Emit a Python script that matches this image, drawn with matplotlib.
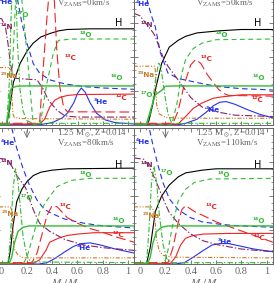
import matplotlib
matplotlib.use('Agg')
import matplotlib.pyplot as plt
from matplotlib.ticker import MultipleLocator

plt.rcParams['lines.scale_dashes'] = False
plt.rcParams['font.family'] = ['Liberation Serif', 'DejaVu Serif']
plt.rcParams['mathtext.fontset'] = 'stix'

# rotation velocities of the four panels
vzams = ['0', '50', '80', '110']

# --- V = 0 km/s -------------------------------------------------------
h_v0 = [(-0.05, 0), (0.04, 0), (0.06, 0.1), (0.093, 0.31), (0.146, 0.45), (0.2, 0.54), (0.25, 0.60),
        (0.31, 0.645), (0.38, 0.67), (0.45, 0.69), (0.52, 0.70), (0.7, 0.705), (1.05, 0.705)]
he4_v0 = [(0.10, 1.1), (0.12, 0.95), (0.16, 0.75), (0.2, 0.6), (0.25, 0.45), (0.3, 0.38), (0.38, 0.33),
          (0.5, 0.30), (0.65, 0.28), (0.8, 0.27), (1.05, 0.26)]
he3_v0 = [(-0.05, 0), (0.3, 0), (0.4, 0.015), (0.48, 0.05), (0.52, 0.085), (0.57, 0.16), (0.6, 0.23),
          (0.63, 0.27), (0.66, 0.24), (0.7, 0.16), (0.75, 0.085), (0.82, 0.035), (0.9, 0.015), (1.05, 0.005)]
c12_v0 = [(-0.05, 0.005), (0.3, 0.005), (0.34, 0.04), (0.38, 0.13), (0.42, 0.18), (0.46, 0.20),
          (0.52, 0.215), (0.6, 0.222), (1.05, 0.225)]
c13_v0 = [(-0.05, 0.01), (0.3, 0.01), (0.33, 0.43), (0.357, 0.77), (0.383, 1.05), (0.41, 1.05),
          (0.436, 0.55), (0.46, 0.28), (0.49, 0.13), (0.52, 0.095), (1.05, 0.093)]
n14_v0 = [(-0.05, 0.78), (0.0, 0.78), (0.03, 0.72), (0.05, 0.6), (0.07, 0.45), (0.093, 0.35),
          (0.12, 0.34), (0.2, 0.335), (0.28, 0.33), (0.33, 0.26), (0.37, 0.18), (0.436, 0.108),
          (0.5, 0.065), (0.6, 0.056), (1.05, 0.056)]
na23_v0 = [(-0.05, 0.42), (0.06, 0.42), (0.075, 0.40), (0.08, 0.3), (0.085, 0.15), (0.09, 0.08),
           (0.1, 0.055), (0.15, 0.045), (1.05, 0.04)]
o16_v0 = [(-0.05, 0.005), (0.04, 0.005), (0.055, 0.1), (0.067, 0.24), (0.08, 0.27), (0.12, 0.283),
          (0.2, 0.285), (1.05, 0.285)]
o17_v0 = [(-0.05, 0), (0.04, 0), (0.06, 0.3), (0.075, 0.8), (0.09, 1.1), (0.11, 1.1), (0.125, 0.6),
          (0.146, 0.255), (0.17, 0.1), (0.2, 0.03), (0.25, 0.01), (1.05, 0.01)]
o18_v0 = [(-0.05, 0), (0.06, 0), (0.09, 0.5), (0.12, 1.1), (0.16, 0.92), (0.21, 0.43), (0.25, 0.0),
          (0.305, 0.0), (0.357, 0.3), (0.41, 0.53), (0.45, 0.62), (0.55, 0.63), (1.05, 0.63)]

# --- V = 50 km/s ------------------------------------------------------
h_v50 = [(-0.05, 0), (0.05, 0), (0.07, 0.03), (0.1, 0.15), (0.12, 0.255), (0.17, 0.45), (0.23, 0.57),
         (0.3, 0.62), (0.36, 0.65), (0.45, 0.675), (0.62, 0.69), (0.8, 0.70), (1.05, 0.70)]
he4_v50 = [(0.03, 1.05), (0.06, 0.9), (0.09, 0.8), (0.12, 0.72), (0.16, 0.53), (0.22, 0.38),
           (0.3, 0.34), (0.35, 0.33), (0.5, 0.30), (0.62, 0.28), (0.8, 0.265), (1.05, 0.255)]
he3_v50 = [(-0.05, 0), (0.3, 0), (0.36, 0.01), (0.45, 0.04), (0.52, 0.09), (0.58, 0.14), (0.63, 0.165),
           (0.68, 0.17), (0.75, 0.15), (0.85, 0.11), (0.95, 0.075), (1.05, 0.05)]
c12_v50 = [(-0.05, 0.005), (0.3, 0.005), (0.36, 0.06), (0.42, 0.12), (0.49, 0.16), (0.58, 0.195),
           (0.65, 0.205), (0.8, 0.22), (1.05, 0.22)]
c13_v50 = [(-0.05, 0.01), (0.26, 0.01), (0.3, 0.1), (0.35, 0.3), (0.4, 0.44), (0.44, 0.48), (0.48, 0.45),
           (0.53, 0.37), (0.57, 0.32), (0.62, 0.26), (0.66, 0.23), (0.7, 0.215), (1.05, 0.21)]
n14_v50 = [(-0.05, 0.82), (0.0, 0.80), (0.05, 0.74), (0.1, 0.68), (0.12, 0.65), (0.15, 0.57),
           (0.18, 0.50), (0.22, 0.43), (0.3, 0.33), (0.4, 0.2), (0.49, 0.13), (0.6, 0.095),
           (0.75, 0.07), (1.05, 0.06)]
na23_v50 = [(-0.05, 0.43), (0.115, 0.43), (0.12, 0.40), (0.125, 0.3), (0.13, 0.15), (0.15, 0.08),
            (0.2, 0.055), (0.3, 0.048), (1.05, 0.047)]
o16_v50 = [(-0.05, 0.005), (0.05, 0.005), (0.08, 0.1), (0.12, 0.22), (0.174, 0.255), (0.2, 0.283),
           (0.3, 0.285), (1.05, 0.285)]
o17_v50 = [(-0.05, 0), (0.05, 0), (0.09, 0.1), (0.12, 0.32), (0.147, 0.46), (0.165, 0.42), (0.19, 0.25),
           (0.22, 0.08), (0.25, 0.01), (1.05, 0.01)]
o18_v50 = [(-0.05, 0.0), (0.25, 0.0), (0.29, 0.15), (0.33, 0.38), (0.36, 0.48), (0.42, 0.56),
           (0.49, 0.60), (0.6, 0.625), (1.05, 0.63)]

# --- V = 80 km/s ------------------------------------------------------
h_v80 = [(-0.05, 0), (0.05, 0), (0.07, 0.1), (0.09, 0.28), (0.12, 0.46), (0.16, 0.55), (0.2, 0.605),
         (0.25, 0.65), (0.31, 0.675), (0.4, 0.69), (0.52, 0.70), (1.05, 0.705)]
he4_v80 = [(0.08, 1.0), (0.12, 0.85), (0.17, 0.70), (0.22, 0.58), (0.28, 0.47), (0.34, 0.40),
           (0.4, 0.37), (0.5, 0.33), (0.65, 0.3), (0.8, 0.28), (1.05, 0.265)]
he3_v80 = [(-0.05, 0), (0.3, 0), (0.36, 0.01), (0.42, 0.04), (0.5, 0.09), (0.57, 0.13), (0.63, 0.15),
           (0.7, 0.155), (0.78, 0.14), (0.9, 0.11), (1.05, 0.08)]
c12_v80 = [(-0.05, 0.005), (0.25, 0.005), (0.3, 0.03), (0.35, 0.1), (0.38, 0.16), (0.45, 0.19),
           (0.52, 0.21), (0.6, 0.22), (0.73, 0.23), (1.05, 0.23)]
c13_v80 = [(-0.05, 0.01), (0.24, 0.01), (0.28, 0.08), (0.32, 0.22), (0.36, 0.36), (0.4, 0.43),
           (0.44, 0.42), (0.48, 0.38), (0.52, 0.34), (0.6, 0.3), (0.7, 0.26), (0.78, 0.24),
           (0.9, 0.2), (1.05, 0.16)]
n14_v80 = [(-0.05, 0.78), (0.04, 0.77), (0.08, 0.72), (0.12, 0.65), (0.16, 0.6), (0.19, 0.56),
           (0.25, 0.40), (0.3, 0.3), (0.38, 0.24), (0.5, 0.18), (0.65, 0.14), (0.8, 0.12), (1.05, 0.10)]
na23_v80 = [(-0.05, 0.42), (0.07, 0.42), (0.085, 0.38), (0.09, 0.25), (0.095, 0.15), (0.1, 0.11),
            (0.13, 0.066), (0.17, 0.045), (1.05, 0.045)]
o16_v80 = [(-0.05, 0.005), (0.06, 0.005), (0.08, 0.05), (0.1, 0.15), (0.13, 0.24), (0.17, 0.27),
           (0.22, 0.28), (1.05, 0.28)]
o17_v80 = [(-0.05, 0), (0.05, 0), (0.07, 0.2), (0.09, 0.55), (0.11, 0.7), (0.13, 0.6), (0.15, 0.4),
           (0.17, 0.2), (0.2, 0.06), (0.23, 0.015), (1.05, 0.01)]
o18_v80 = [(-0.05, 0), (0.17, 0), (0.2, 0.05), (0.25, 0.21), (0.3, 0.38), (0.36, 0.47), (0.44, 0.57),
           (0.55, 0.615), (0.7, 0.63), (1.05, 0.63)]

# --- V = 110 km/s -----------------------------------------------------
h_v110 = [(-0.05, 0), (0.05, 0), (0.08, 0.12), (0.12, 0.385), (0.17, 0.5), (0.23, 0.58), (0.3, 0.64),
          (0.36, 0.67), (0.49, 0.69), (0.6, 0.70), (1.05, 0.70)]
he4_v110 = [(0.06, 1.05), (0.1, 0.88), (0.14, 0.73), (0.18, 0.6), (0.23, 0.48), (0.3, 0.4), (0.4, 0.34),
            (0.49, 0.31), (0.65, 0.29), (0.8, 0.28), (1.05, 0.27)]
he3_v110 = [(-0.05, 0), (0.28, 0), (0.35, 0.01), (0.42, 0.05), (0.5, 0.1), (0.57, 0.14), (0.63, 0.15),
            (0.7, 0.15), (0.8, 0.13), (0.9, 0.11), (1.05, 0.09)]
c12_v110 = [(-0.05, 0.005), (0.24, 0.005), (0.28, 0.05), (0.32, 0.14), (0.36, 0.19), (0.42, 0.21),
            (0.5, 0.22), (0.7, 0.225), (1.05, 0.225)]
c13_v110 = [(-0.05, 0.01), (0.22, 0.01), (0.26, 0.12), (0.3, 0.3), (0.33, 0.4), (0.36, 0.43),
            (0.39, 0.41), (0.44, 0.38), (0.49, 0.36), (0.6, 0.31), (0.75, 0.26), (0.9, 0.21), (1.05, 0.16)]
n14_v110 = [(-0.05, 0.78), (0.03, 0.77), (0.07, 0.72), (0.12, 0.62), (0.16, 0.53), (0.2, 0.44),
            (0.23, 0.38), (0.3, 0.3), (0.4, 0.22), (0.5, 0.17), (0.62, 0.14), (0.8, 0.11), (1.05, 0.09)]
na23_v110 = [(-0.05, 0.42), (0.09, 0.42), (0.11, 0.39), (0.12, 0.3), (0.13, 0.18), (0.15, 0.1),
             (0.18, 0.065), (0.25, 0.05), (1.05, 0.045)]
o16_v110 = [(-0.05, 0.005), (0.06, 0.005), (0.08, 0.05), (0.1, 0.15), (0.13, 0.24), (0.17, 0.27),
            (0.22, 0.28), (1.05, 0.28)]
o17_v110 = [(-0.05, 0), (0.05, 0), (0.07, 0.25), (0.09, 0.6), (0.11, 0.72), (0.13, 0.6), (0.15, 0.38),
            (0.18, 0.15), (0.21, 0.04), (0.25, 0.01), (1.05, 0.01)]
o18_v110 = [(-0.05, 0), (0.19, 0), (0.22, 0.1), (0.26, 0.3), (0.3, 0.46), (0.36, 0.55), (0.43, 0.6),
            (0.55, 0.625), (1.05, 0.63)]

profiles = {
    '0': dict(H=h_v0, He4=he4_v0, He3=he3_v0, C12=c12_v0, C13=c13_v0, N14=n14_v0,
              Na23=na23_v0, O16=o16_v0, O17=o17_v0, O18=o18_v0),
    '50': dict(H=h_v50, He4=he4_v50, He3=he3_v50, C12=c12_v50, C13=c13_v50, N14=n14_v50,
               Na23=na23_v50, O16=o16_v50, O17=o17_v50, O18=o18_v50),
    '80': dict(H=h_v80, He4=he4_v80, He3=he3_v80, C12=c12_v80, C13=c13_v80, N14=n14_v80,
               Na23=na23_v80, O16=o16_v80, O17=o17_v80, O18=o18_v80),
    '110': dict(H=h_v110, He4=he4_v110, He3=he3_v110, C12=c12_v110, C13=c13_v110, N14=n14_v110,
                Na23=na23_v110, O16=o16_v110, O17=o17_v110, O18=o18_v110),
}

# label texts and where they sit in each panel
names = dict(H='H', He4='⁴He', He3='³He', C12='¹²C', C13='¹³C', N14='¹⁴N',
             Na23='²³Na', O16='¹⁶O', O17='¹⁷O', O18='¹⁸O')
label_pos = {
    '0': dict(H=(0.9, 0.75), He4=(-0.02, 0.9), He3=(0.73, 0.17), C12=(0.9, 0.195), C13=(0.5, 0.49),
              N14=(-0.01, 0.72), Na23=(-0.01, 0.36), O16=(0.86, 0.34), O17=(0.12, 0.81), O18=(0.62, 0.66)),
    '50': dict(H=(0.9, 0.75), He4=(-0.037, 0.89), He3=(0.516, 0.108), C12=(0.88, 0.18), C13=(0.48, 0.48),
               N14=(0.0, 0.73), Na23=(-0.02, 0.365), O16=(0.885, 0.34), O17=(0.0, 0.22), O18=(0.6, 0.66)),
    '80': dict(H=(0.9, 0.73), He4=(-0.01, 0.89), He3=(0.59, 0.115), C12=(0.88, 0.21), C13=(0.46, 0.42),
               N14=(-0.01, 0.74), Na23=(0.0, 0.37), O16=(0.88, 0.315), O17=(0.146, 0.485), O18=(0.62, 0.655)),
    '110': dict(H=(0.9, 0.73), He4=(-0.037, 0.9), He3=(0.61, 0.165), C12=(0.9, 0.19), C13=(0.516, 0.42),
                N14=(0.0, 0.73), Na23=(0.016, 0.35), O16=(0.89, 0.315), O17=(0.16, 0.667), O18=(0.61, 0.655)),
}

styles = {
    'H':    dict(color='black', ls='-', lw=0.8),
    'He4':  dict(color='#2233ee', ls=(0, (4, 2.5)), lw=0.8),
    'He3':  dict(color='#2233ee', ls='-', lw=0.8),
    'C12':  dict(color='#ee2222', ls='-', lw=0.8),
    'C13':  dict(color='#ee2222', ls=(0, (7, 3)), lw=0.8),
    'N14':  dict(color='#882266', ls=(0, (5, 1.5, 1, 1.5)), lw=0.8),
    'Na23': dict(color='#cc7a2a', ls=(0, (3, 1.2, 0.8, 1.2, 0.8, 1.2)), lw=0.8),
    'O16':  dict(color='#33bb33', ls='-', lw=1.0),
    'O17':  dict(color='#33bb33', ls=(0, (4, 1.5, 1, 1.5)), lw=0.8),
    'O18':  dict(color='#33bb33', ls=(0, (3.5, 2.5)), lw=0.8),
}

W, HF = 275.0, 283.0
unit = 126.5
xmin, xmax = -0.045, 1.05
pw = (xmax - xmin) * unit
ph = 136.0
lefts = [1.6 + xmin * unit, 1.6 + xmin * unit + pw]
tops = [124.7 - ph, 128.0]

fig = plt.figure(figsize=(2.75, 2.83), dpi=100)
grey = '#666666'

for i, v in enumerate(vzams):
    row, col = divmod(i, 2)
    l, t = lefts[col], tops[row]
    ax = fig.add_axes([l / W, (HF - t - ph) / HF, pw / W, ph / HF])
    for key, pts in profiles[v].items():
        xs = [p[0] for p in pts]
        ys = [p[1] for p in pts]
        ax.plot(xs, ys, **styles[key])
    for key, (tx, ty) in label_pos[v].items():
        if key == 'H':
            ax.text(tx, ty, names[key], color='black', fontsize=7, family='DejaVu Sans',
                    ha='left', va='center')
        else:
            ax.text(tx, ty, names[key], color=styles[key]['color'], fontsize=5.2,
                    family='DejaVu Sans', fontweight='bold', ha='left', va='center')
    ax.text(0.44, 1 - 5.5 / ph, r'1.25 M$_\odot$, Z=0.014', color=grey, fontsize=6.5,
            ha='left', va='center')
    ax.text(0.44, 1 - 15 / ph, r'V$_{\rm ZAMS}$=' + v + 'km/s', color=grey, fontsize=6.5,
            ha='left', va='center')
    ax.annotate('', xy=(0.2, 0.905), xytext=(0.2, 1.0),
                arrowprops=dict(arrowstyle='->', color=grey, lw=0.6))
    ax.set_xlim(xmin, xmax)
    ax.set_ylim(0, 1)
    ax.xaxis.set_major_locator(MultipleLocator(0.2))
    ax.xaxis.set_minor_locator(MultipleLocator(0.05))
    ax.yaxis.set_major_locator(MultipleLocator(0.25))
    ax.yaxis.set_minor_locator(MultipleLocator(0.05))
    ax.tick_params(which='both', direction='in', top=True, right=True, colors=grey,
                   labelleft=False, labelsize=7.5, labelcolor=grey, pad=2.5)
    ax.tick_params(which='major', length=3, width=0.6)
    ax.tick_params(which='minor', length=1.6, width=0.5)
    for s in ax.spines.values():
        s.set_color(grey)
        s.set_linewidth(0.7)
    if row == 0:
        ax.tick_params(labelbottom=False)
    else:
        ax.set_xticks([0, 0.2, 0.4, 0.6, 0.8, 1.0])
        ax.set_xticklabels(['0', '0.2', '0.4', '0.6', '0.8', '1'])
        ax.set_xlabel(r'$M_r/M$', fontsize=8, color=grey, labelpad=1)

fig.savefig('out.png', dpi=100)
